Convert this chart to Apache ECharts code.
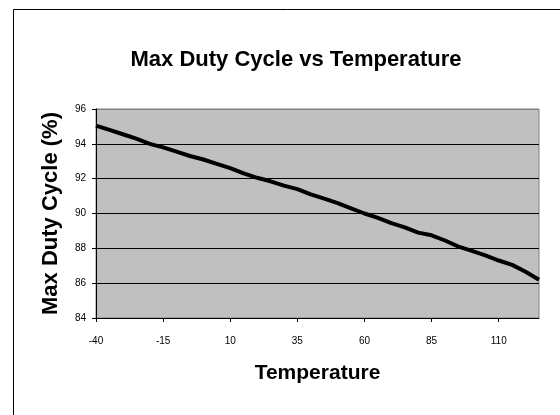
<!DOCTYPE html>
<html>
<head>
<meta charset="utf-8">
<script src="https://cdn.jsdelivr.net/npm/echarts@6/dist/echarts.min.js"></script>
<style>
  html, body { margin: 0; padding: 0; background: #fff; }
  #chart { width: 560px; height: 415px; }
</style>
</head>
<body>
<div id="chart"></div>
<script>
// temperature steps (deg C) and max duty cycle (%)
const temps = [-40, -35, -30, -25, -20, -15, -10, -5, 0, 5, 10, 15, 20, 25, 30, 35, 40,
  45, 50, 55, 60, 65, 70, 75, 80, 85, 90, 95, 100, 105, 110, 115, 120, 125];
const dutyCycle = [95.05, 94.8, 94.55, 94.3, 94.0, 93.8, 93.55, 93.3, 93.1, 92.85, 92.6,
  92.3, 92.05, 91.85, 91.6, 91.4, 91.1, 90.85, 90.6, 90.3, 90.0, 89.75, 89.45, 89.2,
  88.9, 88.75, 88.45, 88.1, 87.85, 87.6, 87.3, 87.05, 86.65, 86.2];
const yMin = 84;
const yMax = 96;
const yStep = 2;

const font = "'Liberation Sans', Arial, sans-serif";

const chart = echarts.init(document.getElementById('chart'), null, {renderer: 'canvas'});

const option = {
    animation: false,
    backgroundColor: '#fff',
    graphic: [
        {
            // outer chart-area frame (right/bottom edges run off the picture)
            type: 'rect',
            shape: {x: 13.5, y: 9.5, width: 600, height: 500},
            style: {fill: null, stroke: '#000', lineWidth: 1},
            silent: true
        },
        {
            type: 'text',
            style: {
                text: 'Max Duty Cycle vs Temperature',
                x: 296, y: 60,
                textAlign: 'center', textVerticalAlign: 'middle',
                font: 'bold 22px ' + font,
                fill: '#000'
            }
        }
    ],
    grid: {
        left: 96,
        right: 21,
        top: 109,
        bottom: 97,
        show: true,
        backgroundColor: '#C0C0C0',
        borderColor: '#808080',
        borderWidth: 1
    },
    xAxis: {
        type: 'category',
        data: temps.map(String),
        boundaryGap: false,
        name: 'Temperature',
        nameLocation: 'middle',
        nameGap: 45,
        nameTextStyle: {fontFamily: font, fontWeight: 'bold', fontSize: 21, color: '#000'},
        axisLine: {lineStyle: {color: '#000', width: 1}},
        axisTick: {show: true, interval: 4, length: 4, lineStyle: {color: '#000'}},
        axisLabel: {interval: 4, margin: 18, fontFamily: font, fontSize: 10, color: '#000'},
        splitLine: {show: false}
    },
    yAxis: {
        type: 'value',
        min: yMin,
        max: yMax,
        interval: yStep,
        name: 'Max Duty Cycle (%)',
        nameLocation: 'middle',
        nameGap: 34,
        nameTextStyle: {fontFamily: font, fontWeight: 'bold', fontSize: 22, color: '#000'},
        axisLine: {show: true, lineStyle: {color: '#000', width: 1}},
        axisTick: {show: true, length: 4, lineStyle: {color: '#000'}},
        axisLabel: {margin: 10, fontFamily: font, fontSize: 10, color: '#000'},
        splitLine: {
            show: true,
            lineStyle: {
                color: ['#000', '#000', '#000', '#000', '#000', '#000', '#808080'],
                width: 1
            }
        }
    },
    series: [
        {
            type: 'line',
            data: dutyCycle,
            showSymbol: false,
            symbol: 'none',
            lineStyle: {color: '#000', width: 4},
            itemStyle: {color: '#000'}
        }
    ]
};

chart.setOption(option);
</script>
</body>
</html>
